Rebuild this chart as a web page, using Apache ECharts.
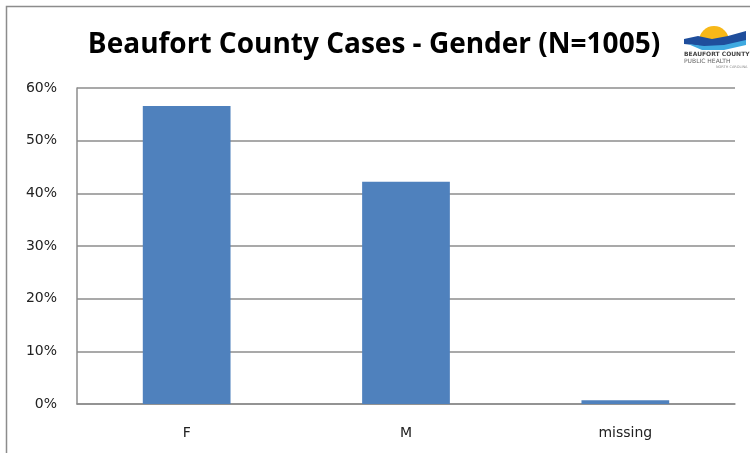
<!DOCTYPE html>
<html>
<head>
<meta charset="utf-8">
<script src="https://cdn.jsdelivr.net/npm/echarts@6/dist/echarts.min.js"></script>
<style>
  html, body { margin: 0; padding: 0; background: #fff; }
  #chart { width: 750px; height: 453px; }
</style>
</head>
<body>
<div id="chart"></div>
<script>
const categories = ['F', 'M', 'missing'];
const shares = [56.6, 42.2, 0.7]; // percent of cases
const yTicks = [0, 10, 20, 30, 40, 50, 60];

const chart = echarts.init(document.getElementById('chart'), null, { renderer: 'canvas' });

const option = {
  backgroundColor: '#ffffff',
  animation: false,
  title: {
    text: 'Beaufort County Cases - Gender (N=1005)',
    left: 369,
    top: 26,
    textAlign: 'center',
    textStyle: {
      fontFamily: 'Open Sans',
      fontWeight: 'bold',
      fontSize: 28,
      color: '#000'
    }
  },
  grid: {
    left: 77,
    right: 15,
    top: 88,
    bottom: 49,
    containLabel: false
  },
  xAxis: {
    type: 'category',
    data: categories,
    axisLine: { lineStyle: { color: '#8c8c8c', width: 1.5 } },
    axisTick: { show: false },
    axisLabel: {
      margin: 22,
      fontFamily: 'DejaVu Sans',
      fontSize: 14,
      color: '#222'
    }
  },
  yAxis: {
    type: 'value',
    min: yTicks[0],
    max: yTicks[yTicks.length - 1],
    interval: 10,
    axisLine: { show: true, lineStyle: { color: '#8c8c8c', width: 1.5 } },
    axisTick: { show: false },
    splitLine: { lineStyle: { color: '#8c8c8c', width: 1.5 } },
    axisLabel: {
      margin: 20,
      formatter: '{value}%',
      fontFamily: 'DejaVu Sans',
      fontSize: 14,
      color: '#222'
    }
  },
  series: [{
    type: 'bar',
    data: shares,
    barWidth: '40%',
    itemStyle: { color: '#4f81bd' }
  }],
  graphic: [
    {
      type: 'rect',
      shape: { x: 6.5, y: 6.5, width: 800, height: 500 },
      style: { fill: 'none', stroke: '#8c8c8c', lineWidth: 1.5 },
      silent: true
    },
    {
      type: 'group',
      left: 684,
      top: 26,
      children: [
        { type: 'sector', shape: { cx: 30, cy: 22, r: 15, startAngle: Math.PI, endAngle: 2 * Math.PI },
          style: { fill: '#f7b818' } },
        { type: 'polygon', shape: { points: [[0, 20], [14, 17], [28, 20], [44, 17], [62, 12], [62, 22], [44, 27], [26, 29], [10, 26], [0, 25]] },
          style: { fill: '#1f4e9c' } },
        { type: 'polygon', shape: { points: [[4, 25], [20, 27], [40, 26], [62, 21], [62, 26], [40, 31], [18, 31]] },
          style: { fill: '#3fa9e0' } },
        { type: 'text', style: { x: 0, y: 32, text: 'BEAUFORT COUNTY', fontSize: 6, fontWeight: 'bold', fontFamily: 'DejaVu Sans', fill: '#444' } },
        { type: 'text', style: { x: 0, y: 39, text: 'PUBLIC HEALTH', fontSize: 6, fontFamily: 'DejaVu Sans', fill: '#666' } },
        { type: 'text', style: { x: 32, y: 46, text: 'NORTH CAROLINA', fontSize: 3.5, fontFamily: 'DejaVu Sans', fill: '#888' } }
      ]
    }
  ]
};

chart.setOption(option);
</script>
</body>
</html>
